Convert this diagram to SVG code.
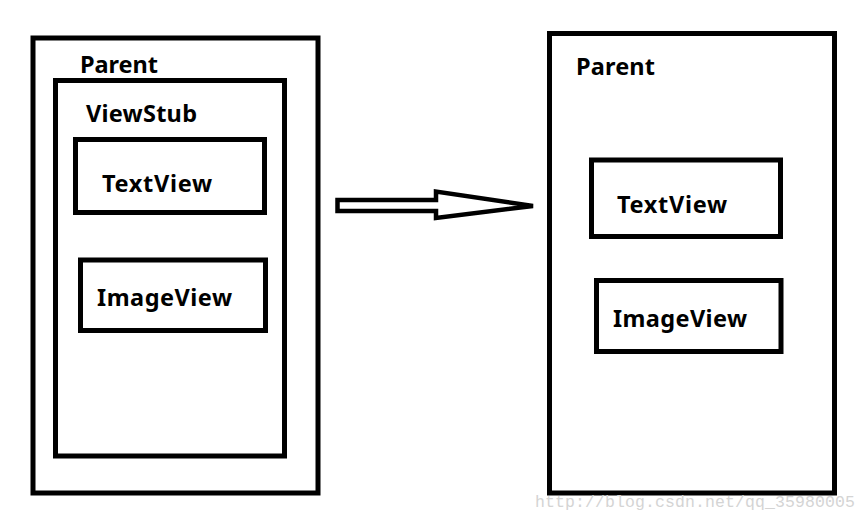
<svg xmlns="http://www.w3.org/2000/svg" width="867" height="522" viewBox="0 0 867 522">
<style>
.box{fill:none;stroke:#000;stroke-width:5}
.lbl{font-family:"Noto Sans","Liberation Sans",sans-serif;font-weight:bold;font-size:23.5px;fill:#000}
.wm{font-family:"Liberation Mono",monospace;font-size:16.5px;fill:#d4d4d4}
</style>
<rect width="867" height="522" fill="#fff"/>
<g id="left-parent">
<rect class="box" x="33" y="38" width="285" height="455"/>
<text class="lbl" x="80" y="73" textLength="78">Parent</text>
</g>
<g id="viewstub">
<rect class="box" x="55.5" y="80.5" width="229" height="375.5"/>
<text class="lbl" x="86" y="122" textLength="111">ViewStub</text>
</g>
<g id="left-textview">
<rect class="box" x="75.5" y="139.5" width="189" height="73"/>
<text class="lbl" x="102" y="192" textLength="110">TextView</text>
</g>
<g id="left-imageview">
<rect class="box" x="80.5" y="260" width="185" height="70.5"/>
<text class="lbl" x="97" y="306" textLength="135">ImageView</text>
</g>
<g id="right-parent">
<rect class="box" x="549.5" y="33.5" width="285" height="459.5"/>
<text class="lbl" x="576" y="75" textLength="79">Parent</text>
</g>
<g id="right-textview">
<rect class="box" x="591.5" y="160" width="189" height="76.5"/>
<text class="lbl" x="617" y="213" textLength="110">TextView</text>
</g>
<g id="right-imageview">
<rect class="box" x="596.5" y="280.5" width="184.5" height="71"/>
<text class="lbl" x="613" y="327" textLength="134">ImageView</text>
</g>
<g id="connectors">
<polygon points="337.5,200 436,200 436,191.5 533,206 436,218 436,211 337.5,211" fill="#fff" stroke="#000" stroke-width="4.5" stroke-linejoin="miter"/>
</g>
<text class="wm" x="535" y="507" textLength="320">http://blog.csdn.net/qq_35980005</text>
</svg>
